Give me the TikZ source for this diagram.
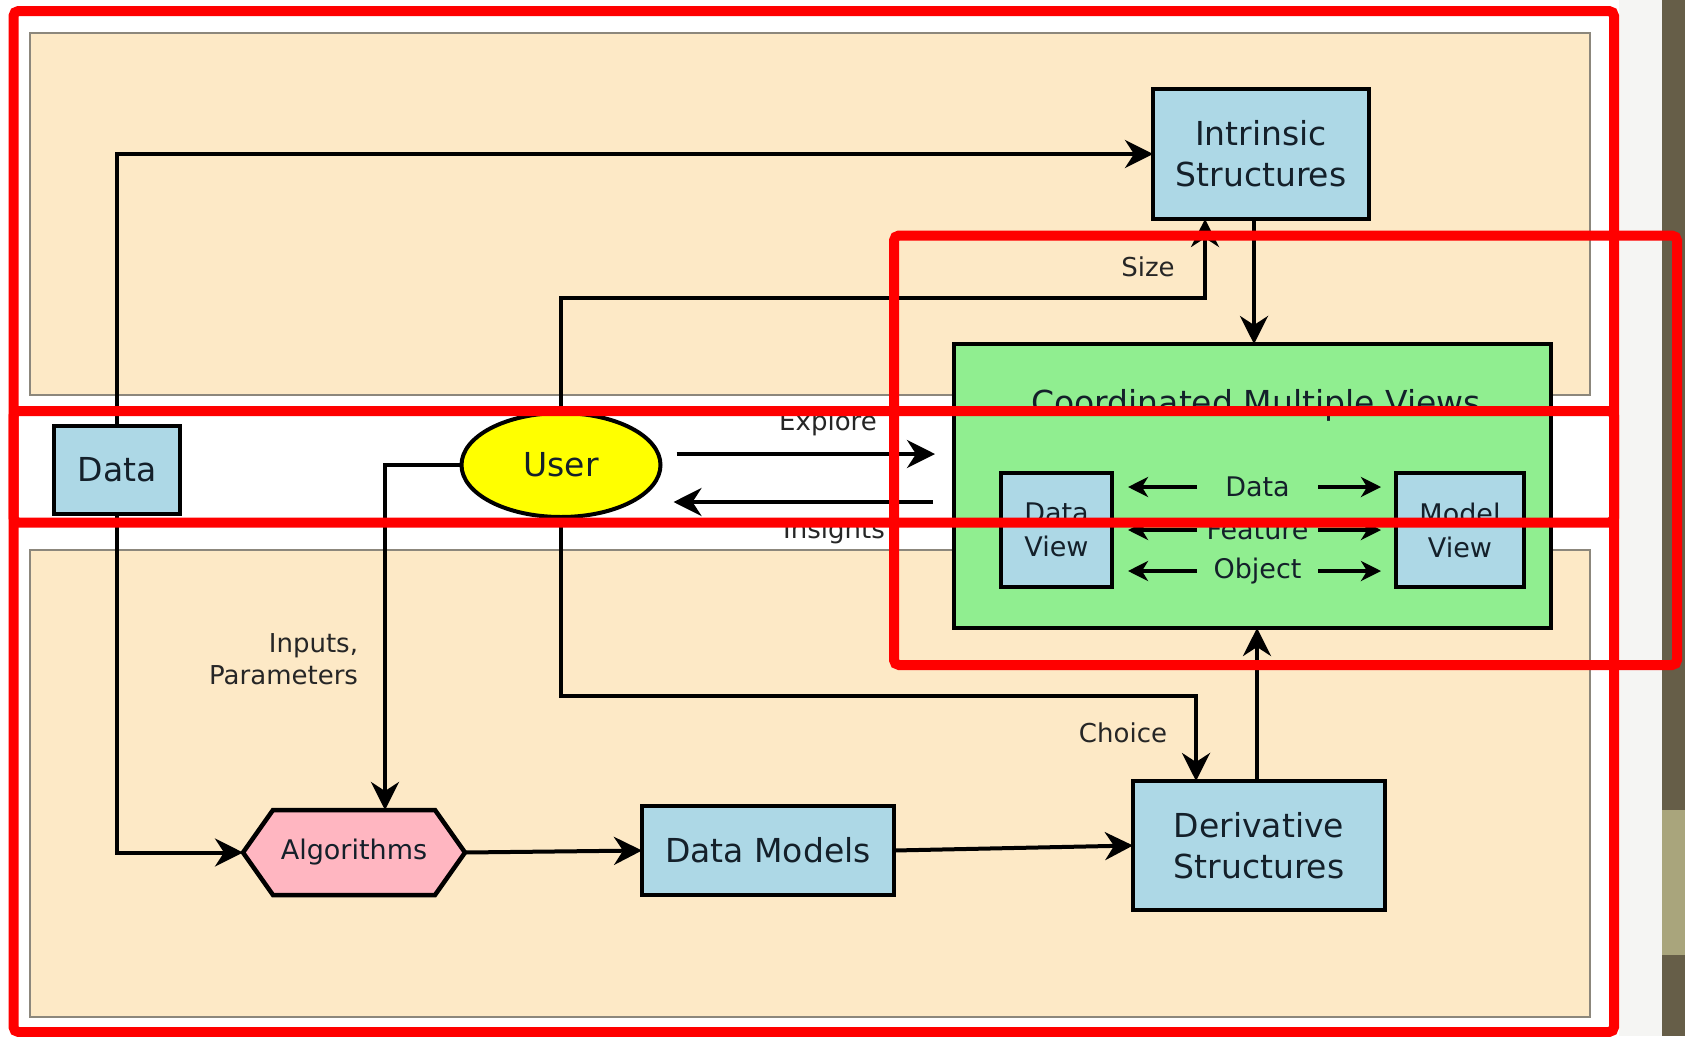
\documentclass[tikz,border=0pt]{standalone}
\usepackage{fontspec}
\setmainfont{DejaVu Sans}
\usetikzlibrary{arrows.meta,shapes.geometric}
\definecolor{panel}{HTML}{FDE9C6}
\definecolor{panelline}{HTML}{8C877C}
\definecolor{boxblue}{HTML}{ADD8E6}
\definecolor{boxgreen}{HTML}{90EE90}
\definecolor{boxpink}{HTML}{FFB6C1}
\definecolor{useryellow}{HTML}{FFFF00}
\definecolor{txt}{HTML}{14202A}
\definecolor{lbl}{HTML}{262626}
\definecolor{redmark}{HTML}{FF0000}
\definecolor{stripgray}{HTML}{F5F5F3}
\definecolor{stripdark}{HTML}{665E48}
\definecolor{stripolive}{HTML}{A9A57C}
\begin{document}
\begin{tikzpicture}[x=1pt,y=-1pt,
  every node/.style={inner sep=0pt, outer sep=0pt},
  box/.style={draw=black, line width=4.5pt, fill=boxblue, text=txt, align=center, font=\fontsize{33}{41}\selectfont},
  smallbox/.style={box, font=\fontsize{27}{34}\selectfont},
  lab/.style={text=lbl, font=\fontsize{26}{32}\selectfont},
  inlab/.style={text=txt, font=\fontsize{27}{33}\selectfont, minimum width=121pt},
  arr/.style={draw=black, line width=4pt, -{Stealth[length=28pt,width=28pt,inset=9pt]}},
  sarr/.style={draw=black, line width=3.5pt, -{Stealth[length=20pt,width=20pt,inset=6pt]}},
  panelbox/.style={fill=panel, draw=panelline, line width=2pt},
  redframe/.style={draw=redmark, line width=10pt, rounded corners=5pt}
]
\useasboundingbox (0,0) rectangle (1685,1036);
% background
\fill[white] (0,0) rectangle (1685,1036);
\fill[stripgray] (1619,0) rectangle (1662,1036);
\fill[stripdark] (1662,0) rectangle (1685,1036);
\fill[stripolive] (1662,810) rectangle (1685,955);
% panels
\draw[panelbox] (30,33) rectangle (1590,395);
\draw[panelbox] (30,550) rectangle (1590,1017);

% nodes
\node[box, minimum width=216pt, minimum height=130pt] (Intr) at (1261,154) {Intrinsic\\Structures};
\node[box, fill=boxgreen, minimum width=597pt, minimum height=284pt] (CMV) at (1252.5,486) {};
\node[text=txt, font=\fontsize{33}{41}\selectfont] (CMVt) at (1256,405) {Coordinated Multiple Views};
\node[smallbox, minimum width=111pt, minimum height=114pt] (DV) at (1056.5,530) {Data\\View};
\node[smallbox, minimum width=128pt, minimum height=114pt] (MV) at (1460,530) {Model\\View};
\node[box, minimum width=126pt, minimum height=88pt] (Data) at (117,470) {Data};
\node[box, ellipse, line width=4pt, fill=useryellow, minimum width=199pt, minimum height=104pt] (User) at (561,465) {User};
\node[box, minimum width=252pt, minimum height=89pt] (DM) at (768,850.5) {Data Models};
\node[box, minimum width=252pt, minimum height=129pt] (Der) at (1259,845.5) {Derivative\\Structures};
\node[minimum width=222pt, minimum height=85pt] (Alg) at (354,852.5) {};
\draw[line width=4.5pt, fill=boxpink, line join=miter] (Alg.west) -- ([xshift=30pt]Alg.north west) -- ([xshift=-30pt]Alg.north east) -- (Alg.east) -- ([xshift=-30pt]Alg.south east) -- ([xshift=30pt]Alg.south west) -- cycle;
\node[text=txt, font=\fontsize{27}{33}\selectfont] (Algt) at (Alg) {Algorithms};

% inner labels
\node[inlab] (iData) at (1257.5,487) {Data};
\node[inlab] (iFeat) at (1257.5,530) {Feature};
\node[inlab] (iObj) at (1257.5,571) {Object};
\foreach \n in {iData,iFeat,iObj}{
  \draw[sarr, shorten >=16pt] (\n.west) -- (DV.east |- \n.west);
  \draw[sarr, shorten >=15pt] (\n.east) -- (MV.west |- \n.east);
}

% connectors
\draw[arr] (Data.north) |- (Intr.west);
\draw[arr] (Data.south) |- (Alg.west);
\draw[arr] (User.north) -- ++(0,-115) -| ([xshift=-56pt]Intr.south);
\draw[arr] ([xshift=-7pt]Intr.south) -- ([xshift=-7pt]Intr.south |- CMV.north);
\draw[arr] (User.west) -| ([xshift=31pt]Alg.north);
\draw[arr] (User.south) -- ++(0,179) -| ([xshift=-63pt]Der.north);
\draw[arr] ([xshift=-2pt]Der.north) -- ([xshift=-2pt]Der.north |- CMV.south);
\draw[arr] (Alg.east) -- (DM.west);
\draw[arr] (DM.east) -- (Der.west);
\draw[arr] ([xshift=16pt,yshift=11pt]User.east) -- ([xshift=-19pt,yshift=32pt]CMV.west);
\draw[arr] ([xshift=-21pt,yshift=-16pt]CMV.west) -- ([xshift=13pt,yshift=-37pt]User.east);

% labels
\node[lab] (lSize) at (1148,267) {Size};
\node[lab] (lChoice) at (1123,733) {Choice};
\node[lab] (lExplore) at (828,423) {Explore};
\node[lab] (lInsights) at (834,531) {Insights};
\node[lab, anchor=east, align=right] (lInputs) at (358,659) {Inputs,\\Parameters};

% red annotation frames
\draw[redframe] (13.5,11) rectangle (1614,1032);
\draw[redframe] (13.5,411) rectangle (1614,522.5);
\draw[redframe] (894,235.5) rectangle (1677,665);
\end{tikzpicture}
\end{document}
